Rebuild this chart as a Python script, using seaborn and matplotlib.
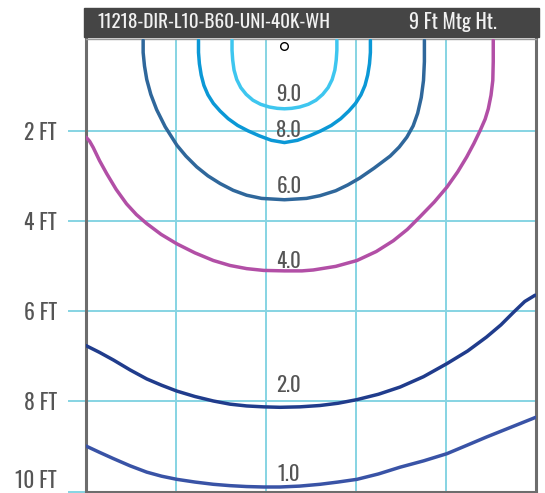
import pandas as pd
import numpy as np
import matplotlib.pyplot as plt
import seaborn as sns
from matplotlib.patches import Rectangle

sns.set_style('white')
plt.rcParams['font.family'] = ['Oswald', 'Barlow Condensed', 'DejaVu Sans']

# ---chart data (feet, x across / y down from fixture)---
header_left = '11218-DIR-L10-B60-UNI-40K-WH'
header_right = '9 Ft Mtg Ht.'
y_ticks = [2, 4, 6, 8, 10]
y_tick_labels = ['2 FT', '4 FT', '6 FT', '8 FT', '10 FT']
x_grid = [2, 4, 6, 8]
fixture_x = [4.41]
fixture_y = [0.11]

levels = ['9.0', '8.0', '6.0', '4.0', '2.0', '1.0']

fc9_x = [3.245, 3.245, 3.26, 3.29, 3.35, 3.44, 3.56, 3.71, 3.88, 4.07, 4.25, 4.41,
         4.57, 4.75, 4.94, 5.11, 5.26, 5.38, 5.47, 5.53, 5.56, 5.575, 5.575]
fc9_y = [-0.02, 0.20, 0.42, 0.64, 0.85, 1.03, 1.18, 1.31, 1.40, 1.46, 1.49, 1.50,
         1.49, 1.46, 1.40, 1.31, 1.18, 1.03, 0.85, 0.64, 0.42, 0.20, -0.02]

fc8_x = [2.50, 2.50, 2.52, 2.56, 2.62, 2.71, 2.83, 2.98, 3.16, 3.37, 3.60, 3.85, 4.12, 4.41,
         4.70, 4.97, 5.22, 5.45, 5.66, 5.84, 5.99, 6.11, 6.20, 6.26, 6.30, 6.32, 6.32]
fc8_y = [-0.02, 0.25, 0.50, 0.75, 0.98, 1.19, 1.38, 1.55, 1.72, 1.87, 1.99, 2.10, 2.20, 2.25,
         2.20, 2.10, 1.99, 1.87, 1.72, 1.55, 1.38, 1.19, 0.98, 0.75, 0.50, 0.25, -0.02]

fc6_x = [1.27, 1.27, 1.30, 1.35, 1.44, 1.57, 1.76, 2.02, 2.22, 2.46, 2.71, 2.98, 3.27, 3.57, 3.90, 4.41,
         4.90, 5.20, 5.55, 5.82, 6.08, 6.40, 6.76, 6.96, 7.13, 7.27, 7.37, 7.45, 7.50, 7.52, 7.52]
fc6_y = [-0.02, 0.25, 0.55, 0.85, 1.18, 1.52, 1.90, 2.31, 2.55, 2.79, 2.99, 3.16, 3.31, 3.42, 3.49, 3.52,
         3.49, 3.43, 3.32, 3.19, 3.04, 2.82, 2.55, 2.35, 2.13, 1.88, 1.60, 1.25, 0.87, 0.45, -0.02]

fc4_x = [0.00, 0.08, 0.16, 0.30, 0.46, 0.67, 0.90, 1.12, 1.35, 1.67, 2.02, 2.42, 2.83, 3.20, 3.57, 3.95, 4.41,
         4.80, 5.05, 5.55, 6.02, 6.45, 6.83, 7.14, 7.42, 7.74, 8.02, 8.26, 8.46, 8.62, 8.76, 8.87, 8.94,
         9.00, 9.04, 9.05, 9.05]
fc4_y = [2.13, 2.22, 2.36, 2.65, 2.94, 3.29, 3.61, 3.85, 4.05, 4.29, 4.50, 4.70, 4.87, 4.98, 5.05, 5.09, 5.10,
         5.10, 5.08, 5.00, 4.87, 4.67, 4.43, 4.18, 3.90, 3.57, 3.24, 2.90, 2.57, 2.27, 1.98, 1.73, 1.50,
         1.20, 0.87, 0.45, -0.02]

fc2_x = [0.00, 0.30, 0.61, 0.98, 1.35, 1.68, 2.02, 2.42, 2.83, 3.20, 3.57, 3.95, 4.31, 4.75,
         5.20, 5.60, 6.02, 6.50, 6.98, 7.50, 8.02, 8.48, 8.90, 9.22, 9.50, 9.75, 9.98]
fc2_y = [6.76, 6.91, 7.08, 7.30, 7.50, 7.64, 7.77, 7.89, 7.99, 8.06, 8.10, 8.12, 8.13, 8.12,
         8.09, 8.04, 7.96, 7.84, 7.68, 7.45, 7.16, 6.88, 6.57, 6.30, 6.02, 5.78, 5.64]

fc1_x = [0.00, 0.30, 0.61, 0.98, 1.35, 1.68, 2.02, 2.42, 2.83, 3.20, 3.57, 3.95, 4.31,
         4.75, 5.20, 5.60, 6.02, 6.50, 6.98, 7.50, 8.02, 8.45, 8.90, 9.45, 10.0]
fc1_y = [8.99, 9.13, 9.27, 9.43, 9.57, 9.66, 9.73, 9.79, 9.84, 9.87, 9.89, 9.90, 9.90,
         9.88, 9.84, 9.79, 9.73, 9.61, 9.46, 9.32, 9.16, 8.98, 8.79, 8.57, 8.35]

label_x = [4.51, 4.51, 4.51, 4.51, 4.51, 4.51]
label_y = [1.18, 1.98, 3.22, 4.87, 7.64, 9.62]

colors = {'9.0': '#3ec6ef', '8.0': '#0b98d6', '6.0': '#2f679b',
          '4.0': '#b24fa6', '2.0': '#203c8c', '1.0': '#3953a6'}

# - long table of all contour points
curves = [(fc9_x, fc9_y), (fc8_x, fc8_y), (fc6_x, fc6_y), (fc4_x, fc4_y), (fc2_x, fc2_y), (fc1_x, fc1_y)]
frames = []
for lvl, (cx, cy) in zip(levels, curves):
    frames.append(pd.DataFrame({'level': lvl, 'x': cx, 'y': cy}))
df = pd.concat(frames, ignore_index=True)

# ---plot---
fig = plt.figure(figsize=(5.45, 4.93), dpi=100)
ax = fig.add_axes([86 / 545, 1.5 / 493, 450 / 545, 452.5 / 493])

grid_color = '#86d4e3'
for gx in x_grid:
    ax.axvline(gx, color=grid_color, lw=1.4, zorder=1)
for gy in y_ticks:
    ax.axhline(gy, color=grid_color, lw=1.4, zorder=1)

sns.lineplot(data=df, x='x', y='y', hue='level', palette=colors, sort=False,
             estimator=None, lw=2.5, legend=False, ax=ax, zorder=3)
for c in ax.lines[-len(levels):]:
    c.set_solid_capstyle('round')
    c.set_solid_joinstyle('round')

for lvl, lx, ly in zip(levels, label_x, label_y):
    ax.text(lx, ly, lvl, ha='center', va='center', fontsize=15, color='#555555', zorder=4)

ax.plot(fixture_x, fixture_y, 'o', mfc='white', mec='black', ms=5.5, mew=1, zorder=5)

ax.set_xlim(0, 10)
ax.set_ylim(10, -0.05)
ax.set_xlabel('')
ax.set_ylabel('')
ax.set_xticks([])
ax.set_yticks(y_ticks)
ax.set_yticklabels(y_tick_labels)
ax.tick_params(axis='y', length=13, width=1.4, color=grid_color, pad=8,
               labelsize=15.5, labelcolor='#555555', left=True)
ax.get_yticklabels()[-1].set_va('bottom')
for side in ['left', 'right', 'bottom']:
    ax.spines[side].set_color('#6d6d6d')
    ax.spines[side].set_linewidth(2.2)
ax.spines['top'].set_color('#9a9a9a')
ax.spines['top'].set_linewidth(1)

# - header bar
fig.patches.append(Rectangle((84 / 545, (493 - 37) / 493), 455 / 545, 29 / 493,
                             transform=fig.transFigure, color='#454545', zorder=0))
fig.text(97 / 545, (493 - 22.5) / 493, header_left, color='#f2f2f2', fontsize=13.8,
         ha='left', va='center')
fig.text(497 / 545, (493 - 22.5) / 493, header_right, color='#f2f2f2', fontsize=14.5,
         ha='right', va='center')

plt.savefig('out.png', dpi=100)
